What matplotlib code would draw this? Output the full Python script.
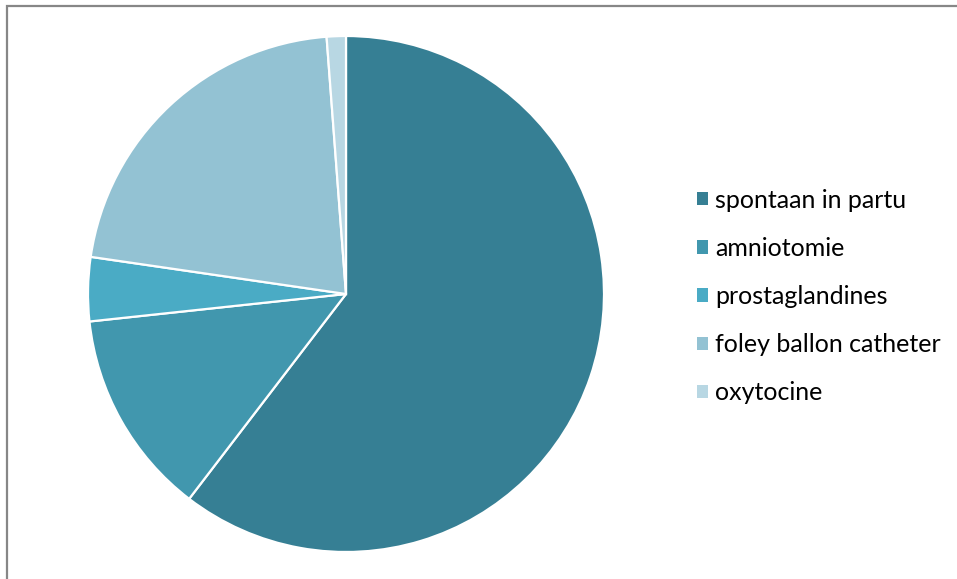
import matplotlib.pyplot as plt
from matplotlib.patches import Rectangle

labels = ["spontaan in partu", "amniotomie", "prostaglandines",
          "foley ballon catheter", "oxytocine"]
values = [60.4, 12.9, 4.0, 21.5, 1.2]
colors = ["#367F94", "#4197AE", "#4AABC5", "#93C2D3", "#B8D7E3"]

W, H = 957, 579
fig = plt.figure(figsize=(W / 100, H / 100), dpi=100)

# outer frame (only top and left visible in the source)
fig.add_artist(Rectangle((7.5 / W, -0.01), 1.0, 1 - 5.5 / H + 0.01,
                         transform=fig.transFigure, fill=False,
                         edgecolor="#878787", linewidth=1.6))

# pie centred at (346, 294) px, radius 258 px
cx, cy, r = 346, 294, 258
ax = fig.add_axes([(cx - r) / W, (H - cy - r) / H, 2 * r / W, 2 * r / H])
wedges, _ = ax.pie(values, colors=colors, startangle=90, counterclock=False,
                   radius=1.0,
                   wedgeprops=dict(edgecolor="white", linewidth=1.6))
ax.set_xlim(-1.0, 1.0)
ax.set_ylim(-1.0, 1.0)
ax.set_aspect("equal")
ax.axis("off")

fs = 18
leg = fig.legend(wedges, labels, loc="upper left",
                 bbox_to_anchor=(684 / W, 1 - 176 / H),
                 frameon=False, labelspacing=1.01,
                 handlelength=0.45, handleheight=0.45, handletextpad=0.3,
                 borderpad=0, prop={"family": "Lato", "size": fs})
for h in leg.legend_handles:
    h.set_edgecolor("none")

fig.savefig("out.png", dpi=100)
